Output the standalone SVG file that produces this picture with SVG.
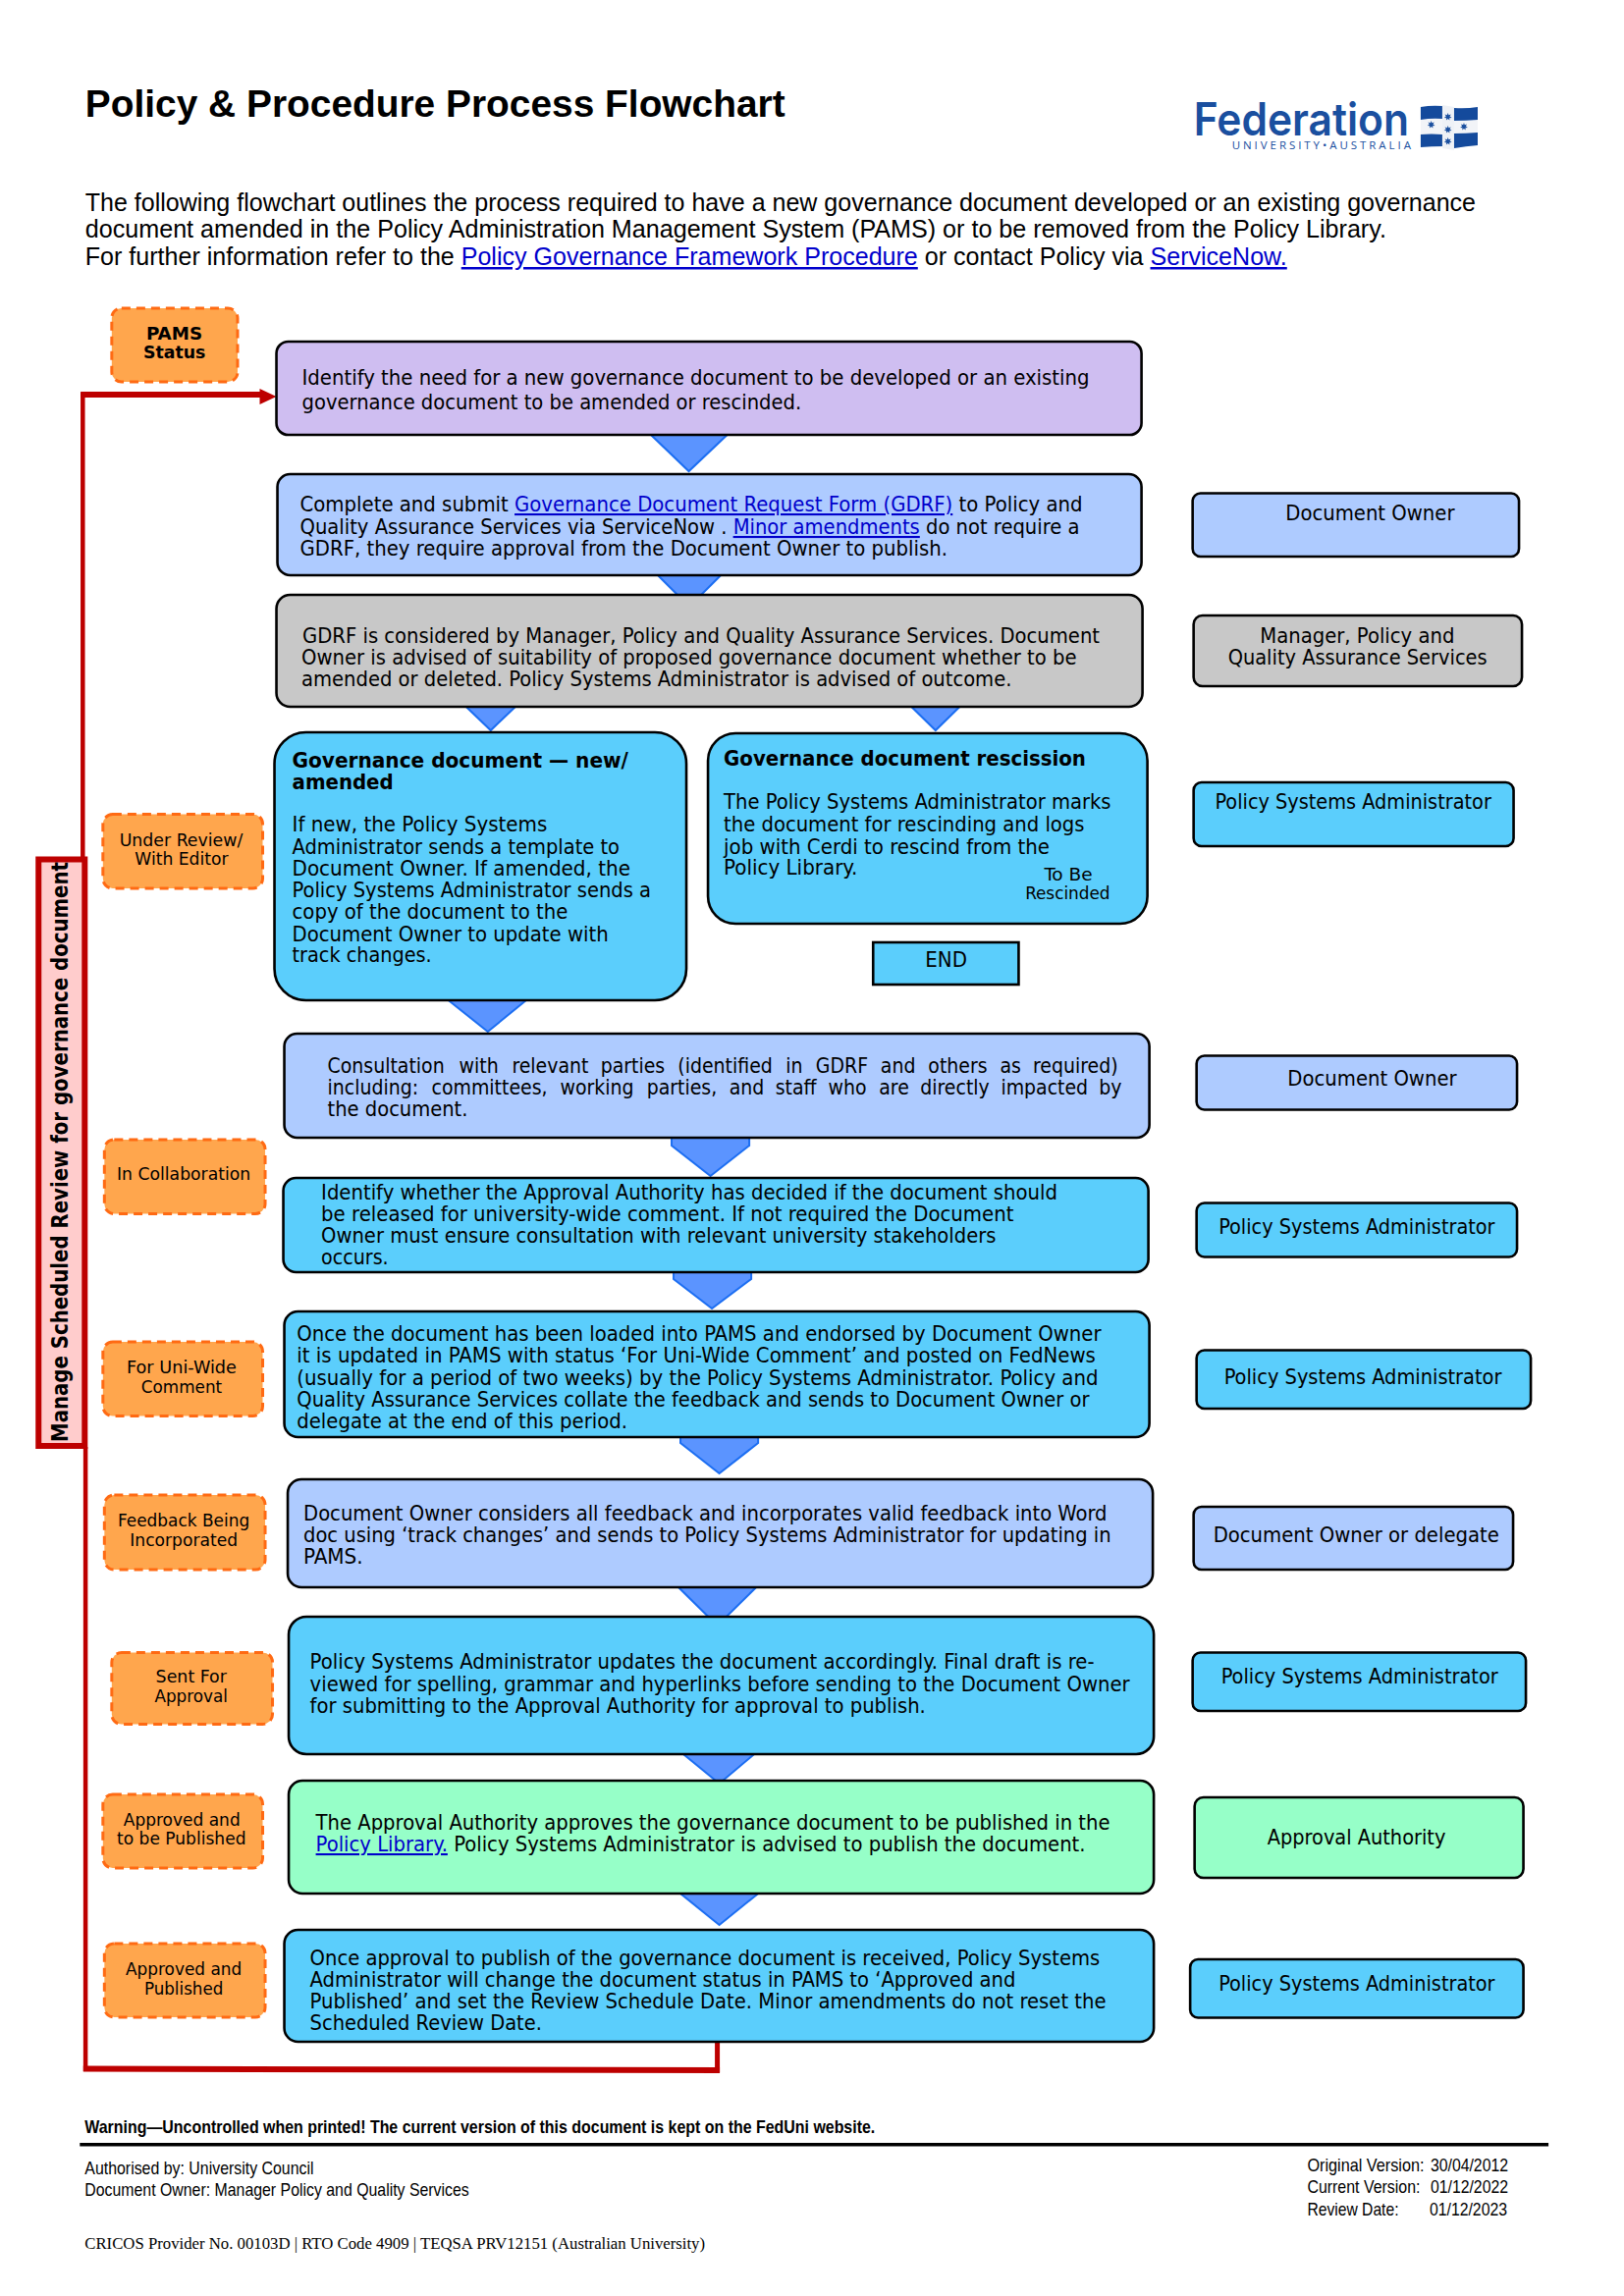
<svg xmlns="http://www.w3.org/2000/svg" width="1654" height="2339" viewBox="0 0 1654 2339">
<style>
text{font-family:"DejaVu Sans Condensed","DejaVu Sans",sans-serif;font-size:21px;fill:#000}
.a{font-family:"Liberation Sans",Arial,sans-serif}
.b{font-weight:bold}
.s{font-size:18px}
.f{font-size:18px}
.l{fill:#0000cc;text-decoration:underline}
.box{stroke:#000;stroke-width:2.6}
.blue{fill:#aecbff}.cyan{fill:#5bcefc}.gray{fill:#c8c8c8}.purple{fill:#cfbef1}.green{fill:#96ffc8}
.st{fill:#ffa64d;stroke:#ff6a13;stroke-width:3;stroke-dasharray:9 6}
.tri{fill:#5b94ff;stroke:#1c6ef2;stroke-width:2}
.red{fill:none;stroke:#bd0000}
</style>
<defs>
<polygon id="star" points="0,-4 .82,-1.71 3.13,-2.49 1.85,-.42 3.9,.89 1.48,1.18 1.74,3.6 0,1.9 -1.74,3.6 -1.48,1.18 -3.9,.89 -1.85,-.42 -3.13,-2.49 -.82,-1.71" fill="#1a4f9f"/>
</defs>
<rect width="1654" height="2339" fill="#fff"/>
<g transform="matrix(1.0012 0 0 1 .2 0)">
<g id="header">
<text class="a b" x="86.5" y="119" style="font-size:38.5px" textLength="712" lengthAdjust="spacingAndGlyphs">Policy &amp; Procedure Process Flowchart</text>
<text class="a" x="86.5" y="215" style="font-size:25px" textLength="1414.5" lengthAdjust="spacingAndGlyphs">The following flowchart outlines the process required to have a new governance document developed or an existing governance</text>
<text class="a" x="86.5" y="242" style="font-size:25px" textLength="1323.5" lengthAdjust="spacingAndGlyphs">document amended in the Policy Administration Management System (PAMS) or to be removed from the Policy Library.</text>
<text class="a" x="86.5" y="270" style="font-size:25px" textLength="1222.5" lengthAdjust="spacingAndGlyphs">For further information refer to the <tspan class="l">Policy Governance Framework Procedure</tspan> or contact Policy via <tspan class="l">ServiceNow.</tspan></text>
</g>

<g id="logo">
<text x="1214" y="138" style="font-family:Inter,'Open Sans',sans-serif;font-size:46px;font-weight:600;fill:#1a4f9f" textLength="219" lengthAdjust="spacingAndGlyphs">Federation</text>
<text x="1253" y="152" style="font-family:'Open Sans',sans-serif;font-size:11.5px;fill:#1a4f9f" textLength="182">UNIVERSITY•AUSTRALIA</text>
<path d="M1445 109L1467 108V150L1445 150Z" fill="#f2f4f8"/>
<path d="M1445 109Q1456 107 1467 108V121Q1456 120 1445 122Z" fill="#144a9c"/>
<path d="M1445 137Q1456 136 1467 137V149Q1456 149 1445 150Z" fill="#144a9c"/>
<path d="M1467 107L1479 109V153L1467 151Z" fill="#eef1f6"/>
<path d="M1479 110Q1491 111 1503 109V148Q1491 149 1479 151Z" fill="#f2f4f8"/>
<path d="M1479 110Q1491 111 1503 109V122Q1491 123 1479 123Z" fill="#144a9c"/>
<path d="M1479 136Q1491 136 1503 135V148Q1491 149 1479 151Z" fill="#144a9c"/>
<use href="#star" x="1455.7" y="127"/>
<use href="#star" x="1472.7" y="119"/>
<use href="#star" x="1472.7" y="132"/>
<use href="#star" x="1472.7" y="144"/>
<use href="#star" x="1489" y="129"/>
</g>

<g id="connectors">
<polygon class="tri" points="662,437 662,443 700.5,480 739.5,443 739.5,437"/>
<polygon class="tri" points="669,580 669,586 701,618 733,586 733,580"/>
<polygon class="tri" points="474,714 474,720 499,744 524,720 524,714"/>
<polygon class="tri" points="927,714 927,720 951.5,744 976,720 976,714"/>
<polygon class="tri" points="456,1013 456,1019 496,1051 535,1019 535,1013"/>
<polygon class="tri" points="683,1155 683,1167 722.5,1198 762,1167 762,1155"/>
<polygon class="tri" points="685,1292 685,1303 724,1333 764,1303 764,1292"/>
<polygon class="tri" points="692,1460 692,1470 731.5,1501 771,1470 771,1460"/>
<polygon class="tri" points="690,1612 690,1617 729.5,1656 769,1617 769,1612"/>
<polygon class="tri" points="695,1782 695,1787 731.5,1817 767,1787 767,1782"/>
<polygon class="tri" points="692,1924 692,1929 731.5,1961 771,1929 771,1924"/>
<path class="red" stroke-width="4.5" d="M84 874V400"/>
<path class="red" stroke-width="6" d="M81.8 402H266"/>
<polygon points="264,396 281,404 264,412" fill="#bd0000"/>
<path class="red" stroke-width="4.5" d="M86.8 1474V2110"/>
<path class="red" stroke-width="6" d="M84.5 2107.5L732 2109"/>
<path class="red" stroke-width="5" d="M729.5 2111V2080"/>
</g>

<g id="n1"><rect class="box purple" x="281" y="348" width="880" height="95" rx="12"/>
<text x="307" y="392" textLength="801" lengthAdjust="spacingAndGlyphs">Identify the need for a new governance document to be developed or an existing</text>
<text x="307" y="417" textLength="508" lengthAdjust="spacingAndGlyphs">governance document to be amended or rescinded.</text></g>

<g id="n2"><rect class="box blue" x="282" y="483" width="879" height="103" rx="13"/>
<text x="305" y="521" textLength="796" lengthAdjust="spacingAndGlyphs">Complete and submit <tspan class="l">Governance Document Request Form (GDRF)</tspan> to Policy and</text>
<text x="305" y="544" textLength="793" lengthAdjust="spacingAndGlyphs">Quality Assurance Services via ServiceNow . <tspan class="l">Minor amendments</tspan> do not require a</text>
<text x="305" y="566" textLength="658.6" lengthAdjust="spacingAndGlyphs">GDRF, they require approval from the Document Owner to publish.</text></g>

<g id="n3"><rect class="box gray" x="281" y="606" width="881" height="114" rx="14"/>
<text x="307.5" y="655" textLength="811" lengthAdjust="spacingAndGlyphs">GDRF is considered by Manager, Policy and Quality Assurance Services. Document</text>
<text x="306.5" y="677" textLength="788.5" lengthAdjust="spacingAndGlyphs">Owner is advised of suitability of proposed governance document whether to be</text>
<text x="306.5" y="699" textLength="722.5" lengthAdjust="spacingAndGlyphs">amended or deleted. Policy Systems Administrator is advised of outcome.</text></g>

<g id="n4"><rect class="box cyan" x="279" y="746" width="419" height="273" rx="32"/>
<text class="b" x="297" y="782" textLength="342" lengthAdjust="spacingAndGlyphs">Governance document — new/</text>
<text class="b" x="297" y="804" textLength="103" lengthAdjust="spacingAndGlyphs">amended</text>
<text x="297" y="847" textLength="259.4" lengthAdjust="spacingAndGlyphs">If new, the Policy Systems</text>
<text x="297" y="870" textLength="333" lengthAdjust="spacingAndGlyphs">Administrator sends a template to</text>
<text x="297" y="892" textLength="344" lengthAdjust="spacingAndGlyphs">Document Owner. If amended, the</text>
<text x="297" y="914.5" textLength="365" lengthAdjust="spacingAndGlyphs">Policy Systems Administrator sends a</text>
<text x="297" y="936.5" textLength="280.5" lengthAdjust="spacingAndGlyphs">copy of the document to the</text>
<text x="297" y="959" textLength="321.7" lengthAdjust="spacingAndGlyphs">Document Owner to update with</text>
<text x="297" y="980.5" textLength="142" lengthAdjust="spacingAndGlyphs">track changes.</text></g>

<g id="n5"><rect class="box cyan" x="720" y="747" width="447" height="194" rx="28"/>
<text class="b" x="736" y="780" textLength="368.4" lengthAdjust="spacingAndGlyphs">Governance document rescission</text>
<text x="736" y="824" textLength="394" lengthAdjust="spacingAndGlyphs">The Policy Systems Administrator marks</text>
<text x="736" y="847" textLength="367" lengthAdjust="spacingAndGlyphs">the document for rescinding and logs</text>
<text x="736" y="870" textLength="331.5" lengthAdjust="spacingAndGlyphs">job with Cerdi to rescind from the</text>
<text x="736" y="891" textLength="136" lengthAdjust="spacingAndGlyphs">Policy Library.</text>
<text class="s" x="1062" y="897" textLength="49" lengthAdjust="spacingAndGlyphs">To Be</text>
<text class="s" x="1042.7" y="916.5" textLength="86.3" lengthAdjust="spacingAndGlyphs">Rescinded</text></g>

<g id="end"><rect x="888" y="960" width="148" height="43" class="cyan" stroke="#000" stroke-width="2.6"/>
<text x="941" y="985" textLength="42.6" lengthAdjust="spacingAndGlyphs">END</text></g>

<g id="n6"><rect class="box blue" x="289" y="1053" width="880" height="106" rx="13"/>
<text y="1093"><tspan x="333">Consultation</tspan><tspan x="466.8">with</tspan><tspan x="520.6">relevant</tspan><tspan x="610.8">parties</tspan><tspan x="689.3">(identified</tspan><tspan x="799">in</tspan><tspan x="829.6">GDRF</tspan><tspan x="895.6">and</tspan><tspan x="944">others</tspan><tspan x="1017">as</tspan><tspan x="1050.6">required)</tspan></text>
<text y="1115.5"><tspan x="333">including:</tspan><tspan x="438.8">committees,</tspan><tspan x="569.6">working</tspan><tspan x="657.7">parties,</tspan><tspan x="741.6">and</tspan><tspan x="788.5">staff</tspan><tspan x="842.3">who</tspan><tspan x="894">are</tspan><tspan x="936">directly</tspan><tspan x="1018">impacted</tspan><tspan x="1117.6">by</tspan></text>
<text x="333" y="1137" textLength="142.7" lengthAdjust="spacingAndGlyphs">the document.</text></g>

<g id="n7"><rect class="box cyan" x="288" y="1200" width="880" height="96" rx="13"/>
<text x="326.5" y="1222" textLength="749" lengthAdjust="spacingAndGlyphs">Identify whether the Approval Authority has decided if the document should</text>
<text x="326.5" y="1244" textLength="704.5" lengthAdjust="spacingAndGlyphs">be released for university-wide comment. If not required the Document</text>
<text x="326.5" y="1266" textLength="686.5" lengthAdjust="spacingAndGlyphs">Owner must ensure consultation with relevant university stakeholders</text>
<text x="326.5" y="1288.5" textLength="68.5" lengthAdjust="spacingAndGlyphs">occurs.</text></g>

<g id="n8"><rect class="box cyan" x="289" y="1336" width="880" height="128" rx="14"/>
<text x="301.7" y="1366" textLength="818.3" lengthAdjust="spacingAndGlyphs">Once the document has been loaded into PAMS and endorsed by Document Owner</text>
<text x="301.7" y="1388" textLength="812.7" lengthAdjust="spacingAndGlyphs">it is updated in PAMS with status ‘For Uni-Wide Comment’ and posted on FedNews</text>
<text x="301.7" y="1411" textLength="815.3" lengthAdjust="spacingAndGlyphs">(usually for a period of two weeks) by the Policy Systems Administrator. Policy and</text>
<text x="301.7" y="1433" textLength="806.3" lengthAdjust="spacingAndGlyphs">Quality Assurance Services collate the feedback and sends to Document Owner or</text>
<text x="301.7" y="1455" textLength="336.3" lengthAdjust="spacingAndGlyphs">delegate at the end of this period.</text></g>

<g id="n9"><rect class="box blue" x="292.5" y="1507" width="880" height="110" rx="14"/>
<text x="308.5" y="1549" textLength="817.5" lengthAdjust="spacingAndGlyphs">Document Owner considers all feedback and incorporates valid feedback into Word</text>
<text x="308.5" y="1571" textLength="821.5" lengthAdjust="spacingAndGlyphs">doc using ‘track changes’ and sends to Policy Systems Administrator for updating in</text>
<text x="308.5" y="1593" textLength="60.5" lengthAdjust="spacingAndGlyphs">PAMS.</text></g>

<g id="n10"><rect class="box cyan" x="293.5" y="1647" width="880" height="140" rx="18"/>
<text x="315" y="1700.5" textLength="798" lengthAdjust="spacingAndGlyphs">Policy Systems Administrator updates the document accordingly. Final draft is re-</text>
<text x="315" y="1723" textLength="834" lengthAdjust="spacingAndGlyphs">viewed for spelling, grammar and hyperlinks before sending to the Document Owner</text>
<text x="315" y="1745" textLength="626.5" lengthAdjust="spacingAndGlyphs">for submitting to the Approval Authority for approval to publish.</text></g>

<g id="n11"><rect class="box green" x="293.5" y="1814" width="880" height="115" rx="14"/>
<text x="321" y="1864" textLength="808" lengthAdjust="spacingAndGlyphs">The Approval Authority approves the governance document to be published in the</text>
<text x="321" y="1886" textLength="783" lengthAdjust="spacingAndGlyphs"><tspan class="l">Policy Library.</tspan> Policy Systems Administrator is advised to publish the document.</text></g>

<g id="n12"><rect class="box cyan" x="289" y="1966" width="884.5" height="114" rx="14"/>
<text x="315" y="2002.4" textLength="803.7" lengthAdjust="spacingAndGlyphs">Once approval to publish of the governance document is received, Policy Systems</text>
<text x="315" y="2024" textLength="718" lengthAdjust="spacingAndGlyphs">Administrator will change the document status in PAMS to ‘Approved and</text>
<text x="315" y="2046" textLength="810" lengthAdjust="spacingAndGlyphs">Published’ and set the Review Schedule Date. Minor amendments do not reset the</text>
<text x="315" y="2068" textLength="236" lengthAdjust="spacingAndGlyphs">Scheduled Review Date.</text></g>

<g id="review-band"><rect x="39" y="875.5" width="47" height="597.5" fill="#ffcccc" stroke="#bd0000" stroke-width="6"/>
<text transform="translate(69 1469) rotate(-90)" style="font-family:'DejaVu Sans',sans-serif;font-size:23.5px;font-weight:bold" textLength="591" lengthAdjust="spacingAndGlyphs">Manage Scheduled Review for governance document</text></g>

<g id="s0"><rect class="st" x="113.5" y="314" width="128" height="75" rx="10"/>
<text class="s b" x="148.7" y="346.5" textLength="57" lengthAdjust="spacingAndGlyphs">PAMS</text>
<text class="s b" x="145.6" y="365.5" textLength="63.3" lengthAdjust="spacingAndGlyphs">Status</text></g>
<g id="s1"><rect class="st" x="104.5" y="829.5" width="162.5" height="75.5" rx="10"/>
<text class="s" x="121.3" y="862.5" textLength="125.5" lengthAdjust="spacingAndGlyphs">Under Review/</text>
<text class="s" x="137" y="881" textLength="95" lengthAdjust="spacingAndGlyphs">With Editor</text></g>
<g id="s2"><rect class="st" x="106" y="1161" width="163.5" height="75.5" rx="10"/>
<text class="s" x="118.7" y="1202" textLength="136" lengthAdjust="spacingAndGlyphs">In Collaboration</text></g>
<g id="s3"><rect class="st" x="104.5" y="1367" width="162.5" height="75.5" rx="10"/>
<text class="s" x="128.7" y="1399.2" textLength="111.8" lengthAdjust="spacingAndGlyphs">For Uni-Wide</text>
<text class="s" x="143.5" y="1419" textLength="82.2" lengthAdjust="spacingAndGlyphs">Comment</text></g>
<g id="s4"><rect class="st" x="106" y="1523" width="163.5" height="76" rx="10"/>
<text class="s" x="119.7" y="1555" textLength="134" lengthAdjust="spacingAndGlyphs">Feedback Being</text>
<text class="s" x="131.9" y="1575" textLength="109.7" lengthAdjust="spacingAndGlyphs">Incorporated</text></g>
<g id="s5"><rect class="st" x="113.5" y="1683.5" width="163.5" height="73" rx="10"/>
<text class="s" x="158.2" y="1714.5" textLength="72.3" lengthAdjust="spacingAndGlyphs">Sent For</text>
<text class="s" x="157" y="1734.2" textLength="74.5" lengthAdjust="spacingAndGlyphs">Approval</text></g>
<g id="s6"><rect class="st" x="104.5" y="1828" width="162.5" height="75" rx="10"/>
<text class="s" x="125.5" y="1860.5" textLength="118.7" lengthAdjust="spacingAndGlyphs">Approved and</text>
<text class="s" x="118.7" y="1879.5" textLength="131.3" lengthAdjust="spacingAndGlyphs">to be Published</text></g>
<g id="s7"><rect class="st" x="106" y="1980" width="163.5" height="75" rx="10"/>
<text class="s" x="127.6" y="2012.3" textLength="118.2" lengthAdjust="spacingAndGlyphs">Approved and</text>
<text class="s" x="146.6" y="2032" textLength="80.2" lengthAdjust="spacingAndGlyphs">Published</text></g>

<g id="r1"><rect class="box blue" x="1213" y="502.5" width="332" height="64.5" rx="8"/>
<text x="1307.5" y="530.5" textLength="172" lengthAdjust="spacingAndGlyphs">Document Owner</text></g>
<g id="r2"><rect class="box gray" x="1214" y="627" width="334" height="72" rx="9"/>
<text x="1281.6" y="655.5" textLength="197.8" lengthAdjust="spacingAndGlyphs">Manager, Policy and</text>
<text x="1249" y="677.5" textLength="263.6" lengthAdjust="spacingAndGlyphs">Quality Assurance Services</text></g>
<g id="r3"><rect class="box cyan" x="1214" y="797" width="325.5" height="65" rx="8"/>
<text x="1235.8" y="824.5" textLength="281" lengthAdjust="spacingAndGlyphs">Policy Systems Administrator</text></g>
<g id="r4"><rect class="box blue" x="1217" y="1075.5" width="326" height="55" rx="8"/>
<text x="1309.6" y="1106" textLength="172" lengthAdjust="spacingAndGlyphs">Document Owner</text></g>
<g id="r5"><rect class="box cyan" x="1217" y="1225.5" width="326" height="55" rx="8"/>
<text x="1239.5" y="1257.3" textLength="281" lengthAdjust="spacingAndGlyphs">Policy Systems Administrator</text></g>
<g id="r6"><rect class="box cyan" x="1217" y="1375.5" width="340" height="59.5" rx="8"/>
<text x="1245" y="1410" textLength="282.4" lengthAdjust="spacingAndGlyphs">Policy Systems Administrator</text></g>
<g id="r7"><rect class="box blue" x="1214" y="1535" width="325" height="64" rx="8"/>
<text x="1234" y="1571" textLength="290.8" lengthAdjust="spacingAndGlyphs">Document Owner or delegate</text></g>
<g id="r8"><rect class="box cyan" x="1213" y="1683.5" width="339" height="59.5" rx="8"/>
<text x="1242" y="1715.5" textLength="281.7" lengthAdjust="spacingAndGlyphs">Policy Systems Administrator</text></g>
<g id="r9"><rect class="box green" x="1215" y="1831" width="334.5" height="82" rx="9"/>
<text x="1289" y="1879" textLength="181.4" lengthAdjust="spacingAndGlyphs">Approval Authority</text></g>
<g id="r10"><rect class="box cyan" x="1210.5" y="1996" width="339" height="59.5" rx="8"/>
<text x="1239.5" y="2028.5" textLength="281" lengthAdjust="spacingAndGlyphs">Policy Systems Administrator</text></g>

<g id="footer">
<text class="a b f" x="86" y="2173" textLength="804" lengthAdjust="spacingAndGlyphs">Warning—Uncontrolled when printed! The current version of this document is kept on the FedUni website.</text>
<rect x="81" y="2183" width="1494" height="3.5" fill="#000"/>
<text class="a f" x="86" y="2214.6" textLength="233" lengthAdjust="spacingAndGlyphs">Authorised by: University Council</text>
<text class="a f" x="86" y="2237" textLength="391" lengthAdjust="spacingAndGlyphs">Document Owner: Manager Policy and Quality Services</text>
<text class="a f" x="1329.6" y="2212.4" textLength="119" lengthAdjust="spacingAndGlyphs">Original  Version:</text>
<text class="a f" x="1455" y="2212" textLength="79" lengthAdjust="spacingAndGlyphs">30/04/2012</text>
<text class="a f" x="1329.6" y="2234" textLength="115" lengthAdjust="spacingAndGlyphs">Current Version:</text>
<text class="a f" x="1455" y="2234" textLength="79" lengthAdjust="spacingAndGlyphs">01/12/2022</text>
<text class="a f" x="1329.6" y="2257" textLength="93" lengthAdjust="spacingAndGlyphs">Review Date:</text>
<text class="a f" x="1454" y="2257" textLength="79" lengthAdjust="spacingAndGlyphs">01/12/2023</text>
<text x="86" y="2291" style="font-family:'Liberation Serif',serif;font-size:17.5px" textLength="631" lengthAdjust="spacingAndGlyphs">CRICOS Provider No. 00103D | RTO Code 4909 | TEQSA PRV12151 (Australian University)</text>
</g>
</g>
</svg>
